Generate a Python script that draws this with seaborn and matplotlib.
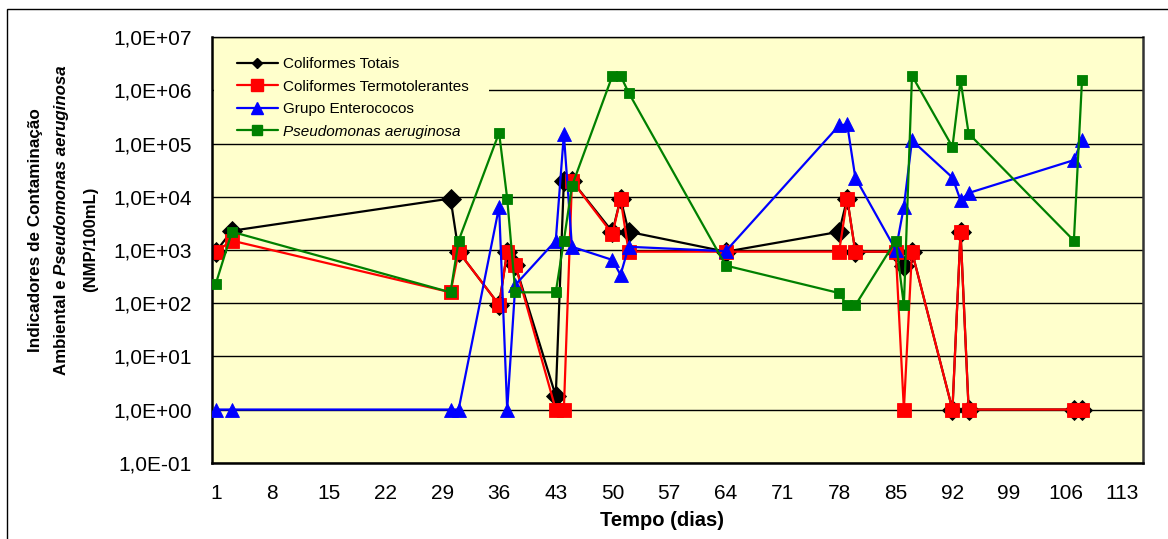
import matplotlib
matplotlib.use("Agg")
import matplotlib.pyplot as plt
import seaborn as sns
import pandas as pd
import numpy as np
from matplotlib.lines import Line2D
from matplotlib.ticker import FixedLocator, FuncFormatter, NullLocator
from matplotlib.patches import Rectangle

# ---------------- data ----------------
days = [1, 3, 30, 31, 36, 37, 38, 43, 44, 45, 50, 51, 52, 64,
        78, 79, 80, 85, 86, 87, 92, 93, 94, 107, 108]

coliformes_totais = [930, 2300, 9300, 930, 93, 930, 520, 1.8, 20000, 20000,
                     2200, 9300, 2200, 930, 2200, 9300, 930, 930, 510, 930,
                     1, 2200, 1, 1, 1]

coliformes_termotolerantes = [930, 1500, 160, 930, 93, 930, 520, 1, 1, 20000,
                              2000, 9300, 930, 930, 930, 9300, 930, 930, 1, 930,
                              1, 2200, 1, 1, 1]

grupo_enterococos = [1, 1, 1, 1, 6500, 1, 220, 1500, 150000, 1150,
                     650, 340, 1150, 950, 220000, 230000, 23000, 1000, 6500, 115000,
                     23000, 8600, 11800, 49000, 117000]

pseudomonas = [230, 2200, 160, 1500, 160000, 9300, 160, 160, 1500, 16000,
               1900000, 1900000, 910000, 510, 155, 91, 91, 1500, 91, 1900000,
               87000, 1550000, 155000, 1500, 1550000]

series_labels = ["Coliformes Totais", "Coliformes Termotolerantes",
                 "Grupo Enterococos", "Pseudomonas aeruginosa"]
x_ticks = list(range(1, 114, 7))
y_exponents = list(range(-1, 8))

# ---------------- style ----------------
sns.set_theme(style="white")
plt.rcParams["font.family"] = ["Liberation Sans", "DejaVu Sans"]

W, H = 1168, 539
fig = plt.figure(figsize=(W / 100, H / 100), dpi=100)
fig.patch.set_facecolor("white")


def fx(px):
    return px / W


def fy(py):
    return 1 - py / H


L, R, T, B = 211.7, 1142.7, 37.3, 462.7
ax = fig.add_axes([fx(L), fy(B), (R - L) / W, (B - T) / H])
ax.set_facecolor("#FFFFCC")
ax.set_yscale("log")
ax.set_ylim(0.1, 1e7)
ax.set_xlim(0.5, 115.5)

styles = [
    (coliformes_totais, "black", "D", 10.0, 5.6, 1),
    (coliformes_termotolerantes, "#FF0000", "s", 9.4, 8.6, 2),
    (grupo_enterococos, "#0000FF", "^", 10.5, 8.6, 3),
    (pseudomonas, "#008000", "s", 6.6, 6.6, 4),
]

handles = []
for (vals, col, mk, ms, lms, z), lab in zip(styles, series_labels):
    df = pd.DataFrame({"dia": days, "valor": vals})
    sns.lineplot(data=df, x="dia", y="valor", ax=ax, color=col, marker=mk,
                 markersize=ms, markeredgecolor=col, markeredgewidth=0.6,
                 linewidth=1.6, estimator=None, sort=False, legend=False,
                 zorder=z)
    handles.append(Line2D([0], [0], color=col, marker=mk, markersize=lms,
                          markeredgecolor=col, linewidth=1.6))

# axes, ticks, grid
ax.xaxis.set_major_locator(FixedLocator(x_ticks))
ax.yaxis.set_major_locator(FixedLocator([10.0 ** e for e in y_exponents]))
ax.yaxis.set_minor_locator(NullLocator())
ax.yaxis.set_major_formatter(
    FuncFormatter(lambda v, p: f"1,0E{int(round(np.log10(v))):+03d}"))
ax.grid(axis="y", which="major", color="black", linewidth=1.0)
ax.grid(axis="x", visible=False)
ax.set_axisbelow(True)
ax.tick_params(axis="both", which="major", direction="out", length=6,
               width=1, color="black", labelsize=15, labelcolor="black")
ax.tick_params(axis="y", pad=8.5)
ax.tick_params(axis="x", pad=9)
ax.set_xlabel("")
ax.set_ylabel("")
for side in ["left", "bottom"]:
    ax.spines[side].set_color("black")
    ax.spines[side].set_linewidth(1.8)
ax.spines["top"].set_color("black")
ax.spines["top"].set_linewidth(1.0)
ax.spines["right"].set_color("#333333")
ax.spines["right"].set_linewidth(1.8)

# legend background (hides gridlines behind legend, as in the reference)
ax.add_patch(Rectangle((fx(213.5), fy(139)), (489 - 213.5) / W, (139 - 46) / H,
                       transform=fig.transFigure, facecolor="#FFFFCC",
                       edgecolor="none", zorder=0.8))

leg = ax.legend(handles, series_labels, loc="upper left",
                bbox_to_anchor=(0.027, 0.953), frameon=False, fontsize=11,
                handlelength=2.7, handletextpad=0.3, labelspacing=0.55,
                borderpad=0, borderaxespad=0)
leg.get_texts()[3].set_style("italic")
for t in leg.get_texts():
    t.set_color("black")

# chart outer border
fig.add_artist(Rectangle((fx(7.3), -0.05), 1.1, fy(9.3) + 0.05,
                         transform=fig.transFigure, fill=False,
                         edgecolor="black", linewidth=1.0))

# axis titles
fig.text(fx(662), fy(521), "Tempo (dias)", ha="center", va="center",
         fontsize=14.5, fontweight="bold", color="black")

fig.text(fx(40), fy(230), "Indicadores de Contaminação", rotation=90,
         rotation_mode="anchor", ha="center", va="baseline",
         fontsize=12.3, fontweight="bold", color="black")
fig.text(fx(95), fy(239), "(NMP/100mL)", rotation=90,
         rotation_mode="anchor", ha="center", va="baseline",
         fontsize=12, fontweight="bold", color="black")

fs2 = 12.2
renderer = fig.canvas.get_renderer()
t_a = fig.text(fx(66), 0.5, "Ambiental e", rotation=90, rotation_mode="anchor",
               ha="left", va="baseline", fontsize=fs2, fontweight="bold",
               color="black")
t_b = fig.text(fx(66), 0.5, "Pseudomonas aeruginosa", rotation=90,
               rotation_mode="anchor", ha="left", va="baseline",
               fontsize=fs2, fontweight="bold", style="italic",
               color="black")
w_a = t_a.get_window_extent(renderer).height
w_b = t_b.get_window_extent(renderer).height
sp = 0.278 * fs2 * 100 / 72
total = w_a + sp + w_b
cy = H - 220
y0 = cy - total / 2
t_a.set_position((fx(66), y0 / H))
t_b.set_position((fx(66), (y0 + w_a + sp) / H))

fig.savefig("out.png", dpi=100, facecolor="white")
